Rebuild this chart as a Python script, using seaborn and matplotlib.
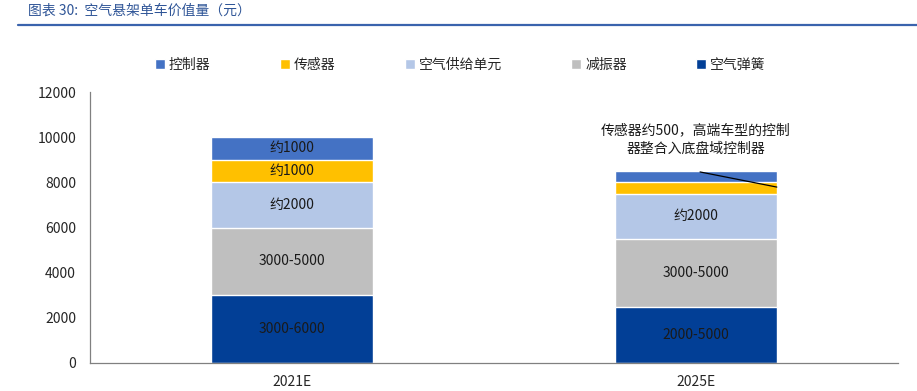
import pandas as pd
import matplotlib.pyplot as plt
import seaborn as sns

years = ["2021E", "2025E"]
parts = ["空气弹簧", "减振器", "空气供给单元", "传感器", "控制器"]
values = {
    "空气弹簧": [3000, 2500],
    "减振器": [3000, 3000],
    "空气供给单元": [2000, 2000],
    "传感器": [1000, 500],
    "控制器": [1000, 500],
}
labels = {
    "空气弹簧": ["3000-6000", "2000-5000"],
    "减振器": ["3000-5000", "3000-5000"],
    "空气供给单元": ["约2000", "约2000"],
    "传感器": ["约1000", ""],
    "控制器": ["约1000", ""],
}
colors = {
    "空气弹簧": "#023F96",
    "减振器": "#BFBFBF",
    "空气供给单元": "#B4C7E7",
    "传感器": "#FFC000",
    "控制器": "#4472C4",
}
legend_order = ["控制器", "传感器", "空气供给单元", "减振器", "空气弹簧"]
note = "传感器约500，高端车型的控制\n器整合入底盘域控制器"

sns.set_style("white")
plt.rcParams["font.family"] = ["Noto Sans CJK SC", "DejaVu Sans"]

data = pd.DataFrame(values, index=years)
cum = data.cumsum(axis=1)

fig = plt.figure(figsize=(9.17, 3.91), dpi=100)
ax = fig.add_axes([90 / 917, 1 - 363 / 391, 808 / 917, 271 / 391])

# stacked bars: draw cumulative totals from the top down
for part in reversed(parts):
    sns.barplot(x=years, y=cum[part].values, color=colors[part], width=0.4,
                saturation=1, ax=ax, label=part)

for part in parts:
    for i, yr in enumerate(years):
        txt = labels[part][i]
        if txt:
            mid = cum.loc[yr, part] - data.loc[yr, part] / 2
            ax.text(i, mid, txt, ha="center", va="center", fontsize=10, color="#1a1a1a")

ax.text(1, 9880, note, ha="center", va="center", fontsize=10, color="#1a1a1a", linespacing=1.4)
ax.plot([1.01, 1.2], [8460, 7790], color="black", lw=0.9)

ax.set_xlim(-0.5, 1.5)
ax.set_ylim(0, 12000)
ax.set_yticks(range(0, 12001, 2000))
sns.despine(ax=ax)
for s in ["left", "bottom"]:
    ax.spines[s].set_color("#808080")
    ax.spines[s].set_linewidth(0.9)
ax.tick_params(axis="y", direction="in", length=4, color="#808080", labelsize=10, pad=10)
ax.tick_params(axis="x", length=0, labelsize=10, pad=9)
ax.set_xlabel("")
ax.set_ylabel("")

handles, lbls = ax.get_legend_handles_labels()
if ax.get_legend() is not None:
    ax.get_legend().remove()
hmap = dict(zip(lbls, handles))
fig.legend([hmap[p] for p in legend_order], legend_order, loc="center",
           bbox_to_anchor=(0.502, 1 - 65 / 391), ncol=5, frameon=False,
           fontsize=10, handlelength=0.7, handleheight=0.7, handletextpad=0.3,
           columnspacing=5.0)

fig.text(28 / 917, 1 - 11 / 391, "图表 30:  空气悬架单车价值量（元）", ha="left", va="center",
         fontsize=10, color="#2F5597", style="italic")
fig.add_artist(plt.Line2D([18 / 917, 1], [1 - 25 / 391] * 2, color="#3A63AD", lw=1.6))

fig.savefig("out.png", dpi=100)
